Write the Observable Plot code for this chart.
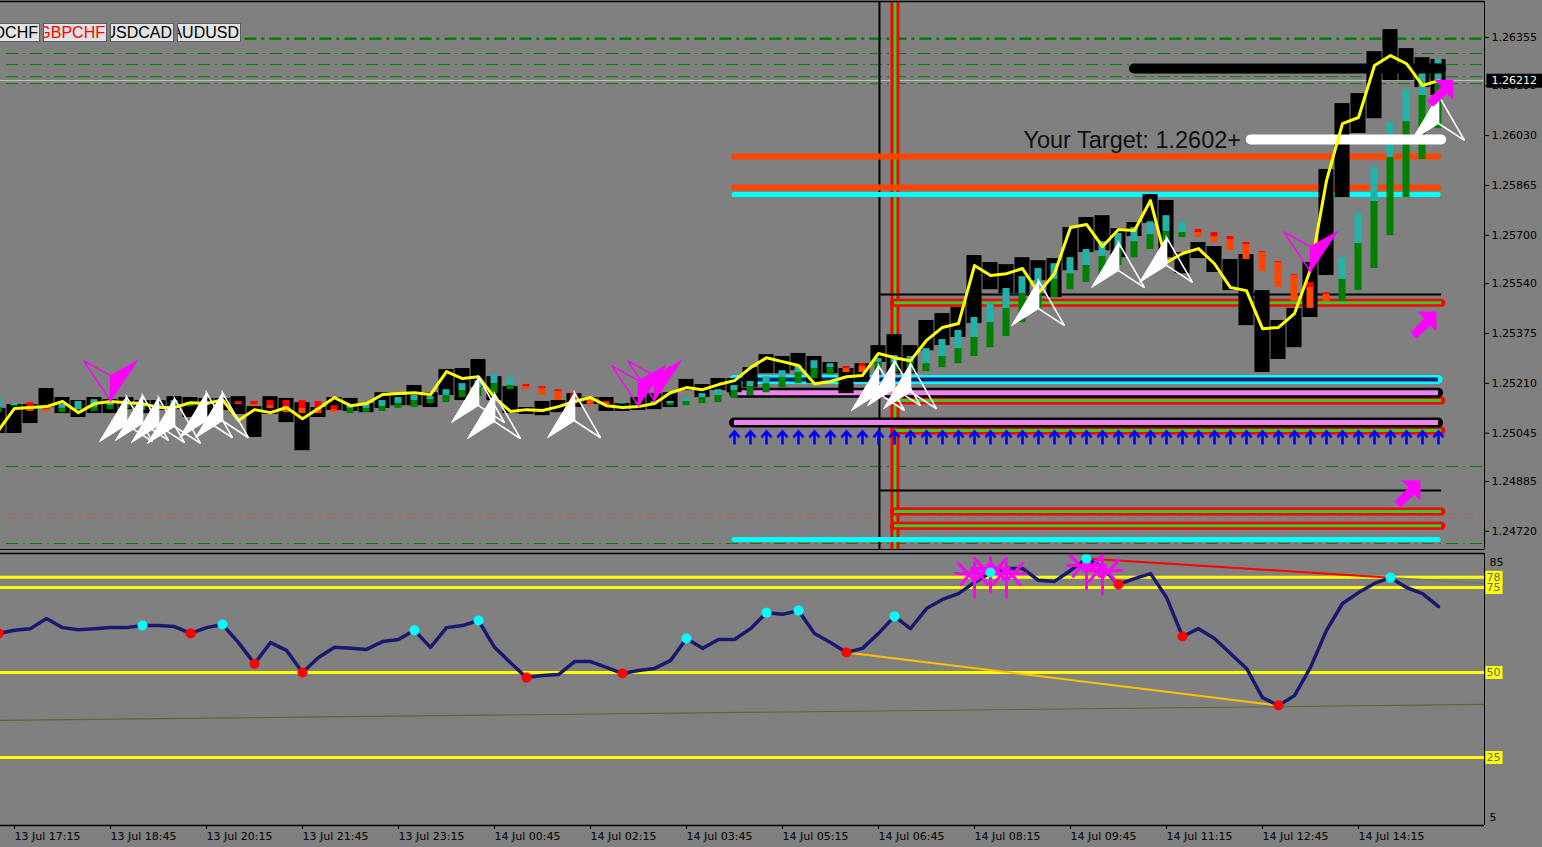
<!DOCTYPE html>
<html><head><meta charset="utf-8">
<script src="https://cdn.jsdelivr.net/npm/d3@7"></script>
<script src="https://cdn.jsdelivr.net/npm/@observablehq/plot@0.6"></script>
<style>
html,body{margin:0;padding:0;background:#808080;overflow:hidden}
#wrap{position:relative;width:1542px;height:847px}
#wrap svg{display:block}
.btn{position:absolute;top:23px;width:64px;height:19px;box-sizing:border-box;border:1px solid #5c5c5c;background:#e3e3e3;display:flex;justify-content:flex-end;align-items:center;overflow:hidden;font-family:"Liberation Sans",Arial,sans-serif;font-size:16px;white-space:nowrap;line-height:17px}
.btn span{flex:none;padding-right:1px}
</style></head>
<body><div id="wrap"></div>
<script>
// ---------------- DATA ----------------
const symbols = ["USDCHF", "GBPCHF", "USDCAD", "AUDUSD"];
const activeSymbol = "GBPCHF";

const firstBar = -1; // bar index of first value (bar 0 = 13 Jul 17:15, M15)
const timeTickBars = [0, 6, 12, 18, 24, 30, 36, 42, 48, 54, 60, 66, 72, 78, 84];
const timeTickLabels = ["13 Jul 17:15", "13 Jul 18:45", "13 Jul 20:15", "13 Jul 21:45", "13 Jul 23:15",
  "14 Jul 00:45", "14 Jul 02:15", "14 Jul 03:45", "14 Jul 05:15", "14 Jul 06:45", "14 Jul 08:15",
  "14 Jul 09:45", "14 Jul 11:15", "14 Jul 12:45", "14 Jul 14:15"];
const priceTicks = [1.26355, 1.26195, 1.26030, 1.25865, 1.25700, 1.25540, 1.25375, 1.25210, 1.25045, 1.24885, 1.24720];
const priceWindow = [1.24660, 1.26474];
const barWindow = [-0.875, 91.875];

const candleHi = [
  1.25127,1.25140,1.25140,1.25193,1.25163,1.25153,1.25163,1.25156,1.25163,1.25153,
  1.25153,1.25166,1.25163,1.25160,1.25160,1.25166,1.25133,1.25166,1.25160,1.25146,
  1.25130,1.25163,1.25160,1.25143,1.25179,1.25170,1.25203,1.25179,1.25256,1.25259,
  1.25289,1.25232,1.25199,1.25130,1.25150,1.25153,1.25176,1.25163,1.25163,1.25143,
  1.25163,1.25176,1.25179,1.25223,1.25206,1.25226,1.25226,1.25262,1.25305,1.25299,
  1.25309,1.25299,1.25279,1.25259,1.25275,1.25335,1.25371,1.25335,1.25418,1.25441,
  1.25461,1.25633,1.25610,1.25603,1.25626,1.25616,1.25623,1.25726,1.25759,1.25765,
  1.25722,1.25742,1.25835,1.25815,1.25643,1.25676,1.25663,1.25620,1.25636,1.25517,
  1.25418,1.25458,1.25610,1.25918,1.26136,1.26169,1.26308,1.26381,1.26318,1.26288,1.26282];
const candleLo = [
  1.25044,1.25044,1.25077,1.25130,1.25110,1.25097,1.25110,1.25110,1.25123,1.25110,
  1.25120,1.25123,1.25097,1.25100,1.25120,1.25107,1.25031,1.25107,1.25080,1.24987,
  1.25097,1.25120,1.25117,1.25113,1.25127,1.25136,1.25136,1.25130,1.25170,1.25153,
  1.25196,1.25153,1.25110,1.25107,1.25103,1.25113,1.25130,1.25140,1.25117,1.25117,
  1.25120,1.25123,1.25130,1.25186,1.25163,1.25186,1.25179,1.25196,1.25242,1.25242,
  1.25252,1.25209,1.25242,1.25176,1.25213,1.25279,1.25242,1.25242,1.25318,1.25335,
  1.25362,1.25408,1.25520,1.25507,1.25507,1.25550,1.25494,1.25583,1.25643,1.25649,
  1.25626,1.25696,1.25739,1.25626,1.25573,1.25623,1.25577,1.25517,1.25401,1.25246,
  1.25289,1.25328,1.25428,1.25567,1.25825,1.26037,1.26086,1.26212,1.26212,1.26189,1.26163];

const haTop = [
  1.25160,1.25143,1.25146,1.25127,1.25140,1.25150,1.25156,1.25143,1.25153,1.25140,
  1.25140,1.25153,1.25146,1.25150,1.25153,1.25150,1.25150,1.25153,1.25153,1.25153,
  1.25150,1.25136,1.25136,1.25140,1.25153,1.25163,1.25170,1.25166,1.25189,1.25209,
  1.25219,1.25239,1.25229,1.25206,1.25199,1.25189,1.25176,1.25163,1.25150,1.25146,
  1.25146,1.25150,1.25150,1.25160,1.25176,1.25189,1.25203,1.25216,1.25232,1.25252,
  1.25269,1.25285,1.25275,1.25266,1.25275,1.25292,1.25302,1.25299,1.25325,1.25355,
  1.25385,1.25428,1.25477,1.25524,1.25563,1.25590,1.25606,1.25626,1.25653,1.25679,
  1.25706,1.25726,1.25745,1.25765,1.25742,1.25719,1.25709,1.25696,1.25676,1.25646,
  1.25613,1.25570,1.25544,1.25510,1.25626,1.25772,1.25924,1.26073,1.26182,1.26252,1.26282];
const haMid = [
  1.25130,1.25136,1.25130,1.25123,1.25127,1.25123,1.25130,1.25136,1.25143,1.25130,
  1.25133,1.25140,1.25140,1.25143,1.25146,1.25143,1.25140,1.25136,1.25133,1.25127,
  1.25127,1.25123,1.25127,1.25127,1.25133,1.25143,1.25153,1.25156,1.25170,1.25186,
  1.25196,1.25209,1.25203,1.25199,1.25193,1.25183,1.25163,1.25156,1.25146,1.25143,
  1.25143,1.25146,1.25143,1.25150,1.25163,1.25170,1.25186,1.25199,1.25209,1.25229,
  1.25246,1.25259,1.25262,1.25259,1.25266,1.25279,1.25279,1.25279,1.25275,1.25299,
  1.25325,1.25362,1.25411,1.25458,1.25507,1.25517,1.25554,1.25573,1.25600,1.25630,
  1.25656,1.25679,1.25702,1.25712,1.25709,1.25709,1.25696,1.25686,1.25669,1.25643,
  1.25610,1.25567,1.25527,1.25504,1.25554,1.25673,1.25812,1.25957,1.26076,1.26163,1.26206];
const haBot = [
  1.25113,1.25133,1.25117,1.25117,1.25113,1.25120,1.25117,1.25123,1.25127,1.25120,
  1.25127,1.25133,1.25133,1.25136,1.25140,1.25140,1.25133,1.25127,1.25113,1.25110,
  1.25110,1.25113,1.25110,1.25113,1.25117,1.25127,1.25130,1.25143,1.25146,1.25163,
  1.25166,1.25176,1.25189,1.25189,1.25170,1.25153,1.25143,1.25136,1.25140,1.25140,
  1.25140,1.25140,1.25136,1.25136,1.25143,1.25146,1.25160,1.25170,1.25179,1.25196,
  1.25209,1.25226,1.25239,1.25246,1.25246,1.25252,1.25246,1.25246,1.25249,1.25262,
  1.25275,1.25299,1.25328,1.25365,1.25411,1.25458,1.25494,1.25520,1.25544,1.25567,
  1.25600,1.25626,1.25653,1.25673,1.25693,1.25693,1.25676,1.25649,1.25620,1.25580,
  1.25527,1.25481,1.25458,1.25481,1.25481,1.25517,1.25590,1.25699,1.25825,1.25951,1.26053];
const haDirection = ("UUDDUUUUUU" + "UUUUUDDDDD" + "DDUUUUUUUU" + "UUUDDDDDDU" + "UUUUUUUUUU" +
  "UUUDDUUUUU" + "UUUUUUUUUU" + "UUUUUDDDDD" + "DDDDUUUUUUU").split("");

const maLine = [
  1.25054,1.25127,1.25130,1.25133,1.25150,1.25113,1.25143,1.25150,1.25146,1.25143,
  1.25130,1.25130,1.25146,1.25143,1.25156,1.25087,1.25123,1.25113,1.25130,1.25093,
  1.25127,1.25163,1.25136,1.25143,1.25173,1.25176,1.25179,1.25173,1.25249,1.25226,
  1.25232,1.25163,1.25117,1.25123,1.25120,1.25133,1.25150,1.25163,1.25136,1.25130,
  1.25133,1.25143,1.25179,1.25196,1.25189,1.25206,1.25219,1.25262,1.25295,1.25282,
  1.25269,1.25209,1.25216,1.25232,1.25236,1.25309,1.25295,1.25285,1.25352,1.25395,
  1.25408,1.25600,1.25567,1.25573,1.25590,1.25510,1.25573,1.25726,1.25736,1.25663,
  1.25719,1.25716,1.25815,1.25610,1.25640,1.25656,1.25606,1.25527,1.25517,1.25391,
  1.25395,1.25441,1.25587,1.25881,1.26070,1.26090,1.26262,1.26295,1.26268,1.26196,1.26212];

const oscLine = [
  61.5,62.4,62.9,65.9,63.2,62.6,62.9,63.2,63.2,63.8,
  63.8,63.5,61.5,63.2,64.1,58.8,52.6,58.8,56.5,50.0,
  54.4,57.4,57.1,56.8,59.1,59.7,62.4,57.4,63.2,63.8,
  65.3,57.4,52.9,48.5,49.1,49.4,53.2,53.2,51.5,49.7,
  50.6,51.2,53.5,60.0,57.1,59.7,59.7,62.9,67.6,67.1,
  68.2,61.5,58.8,55.9,57.1,61.5,66.5,62.9,68.8,71.5,
  73.2,76.5,79.4,80.6,80.6,77.1,76.8,80.0,83.5,80.9,
  75.9,77.6,79.1,72.1,60.6,62.9,60.0,55.6,51.2,42.6,
  40.3,43.2,51.5,62.4,70.3,73.5,76.2,77.9,75.0,73.2,69.4];
const oscCyanBars = [8, 13, 25, 29, 42, 47, 49, 55, 61, 67, 86];
const oscRedBars = [-1, 11, 15, 18, 32, 38, 52, 69, 73, 79];
const oscLevels = [78, 75, 50, 25];
const oscTopLabel = 85, oscBottomLabel = 5;
const oscBaselineBars = [-0.875, 91.875];
const oscBaselineValues = [35.9, 40.6];
const bullDivBars = [52, 79], bullDivValues = [55.9, 40.3];
const bearDivBars = [67, 86], bearDivValues = [83.5, 77.9];
const bearDivExtBars = [86, 91.875], bearDivExtValues = [77.9, 76.2];
const oscStarBars = [60, 61, 62, 67, 68];
const oscStarValues = [79.1, 80.6, 79.1, 81.5, 80.0];

// horizontal levels (price) and their bar spans
const bidPrice = 1.26212;
const greenDashThick = {price: 1.26351, from: 14.4};
const greenDashLevels = [1.26302, 1.26265, 1.26225, 1.26202, 1.24935, 1.24680];
const orangeDashLevels = [1.24766];
const zoneFrom = 45.0, zoneTo = 89.0;
const orangeLevels = [1.25961, 1.25858];
const cyanLevels = [1.25835, 1.24693];
const cyanNavyLevels = [1.25223];
const violetLevels = [1.25179, 1.25080];
const pivotFrom = 55.0, pivotTo = 89.2;
const rgrLevels = [1.25477, 1.25153, 1.25054, 1.24786, 1.24739];
const thinBlackFrom = 54.1;
const thinBlackLevels = [1.25504, 1.24855];
const blackBand = {price: 1.26252, from: 70.0, to: 89.2};
const targetBand = {price: 1.26017, from: 77.3, to: 89.2};
const targetText = "Your Target: 1.2602+";
const targetTextBar = 63.06;
const cursorBar = 54.06;
const pivotVerticalBar = 55.03;

const whiteArrowBars = [7, 8, 9, 10, 12, 13, 29, 30, 35, 54, 55, 56, 64, 69, 72, 89];
const whiteArrowPrices = [1.25166, 1.25170, 1.25163, 1.25160, 1.25179, 1.25179, 1.25229, 1.25176, 1.25179,
  1.25269, 1.25285, 1.25275, 1.25550, 1.25676, 1.25693, 1.26163];
const magentaArrowBars = [6, 39, 40, 81];
const magentaArrowPrices = [1.25153, 1.25136, 1.25153, 1.25580];
const boldArrowBars = [88.06, 87.06, 89.1];
const boldArrowPrices = [1.25405, 1.24845, 1.26172];
const blueArrowBars = d3.range(45, 90);
const blueArrowPrice = 1.25031;

// ---------------- BUILD ----------------
const bars = candleHi.map((h, k) => ({
  i: firstBar + k, hi: h, lo: candleLo[k],
  top: haTop[k], mid: haMid[k], bot: haBot[k], up: haDirection[k] === "U",
  ma: maLine[k], osc: oscLine[k]
}));
const byBar = new Map(bars.map(d => [d.i, d]));
const sym = f => ({draw(ctx) { f(ctx); }});
const whiteLeft = sym(c => { c.moveTo(0, 0); c.lineTo(-27, 45); c.lineTo(0, 28); c.closePath(); });
const whiteRight = sym(c => { c.moveTo(0, 0); c.lineTo(26, 45); c.lineTo(0, 28); c.closePath(); });
const magLeft = sym(c => { c.moveTo(0, 0); c.lineTo(-27, -40); c.lineTo(0, -25); c.closePath(); });
const magRight = sym(c => { c.moveTo(0, 0); c.lineTo(27, -40); c.lineTo(0, -25); c.closePath(); });
const blueUp = sym(c => { c.moveTo(0, 7); c.lineTo(0, -5); c.moveTo(-5, 0); c.lineTo(0, -6); c.lineTo(5, 0); });
const boldUpRight = sym(c => { c.moveTo(13, -13); c.lineTo(13, 7); c.lineTo(7, 1); c.lineTo(-7, 14); c.lineTo(-13, 8); c.lineTo(1, -6); c.lineTo(-6, -13); c.closePath(); });
const star = sym(c => {
  c.moveTo(-20, 0); c.lineTo(20, 0);
  c.moveTo(-17, -11); c.lineTo(0, 7); c.lineTo(17, -11);
  c.moveTo(-14, 12); c.lineTo(0, -6); c.lineTo(14, 12);
  c.moveTo(0, -12); c.lineTo(0, 25);
});
const priceBox = sym(c => { c.rect(0, -7, 57, 14); });
const levelBox = sym(c => { c.rect(0, -6.5, 17, 13); });

const X1 = barWindow[1];
const span = (prices, from, to) => prices.map(p => ({p, from, to}));
const rules = (data, opts) => Plot.ruleY(data, {y: "p", x1: "from", x2: "to", ...opts});

const whiteArrows = whiteArrowBars.map((b, k) => ({i: b, p: whiteArrowPrices[k]}));
const magArrows = magentaArrowBars.map((b, k) => ({i: b, p: magentaArrowPrices[k]}));
const boldArrows = boldArrowBars.map((b, k) => ({i: b, p: boldArrowPrices[k]}));
const blueArrows = blueArrowBars.map(b => ({i: b, p: blueArrowPrice}));

const main = Plot.plot({
  width: 1542, height: 550, marginLeft: 0, marginRight: 58, marginTop: 1, marginBottom: 1,
  x: {domain: barWindow, axis: null},
  y: {domain: priceWindow, axis: null},
  color: {type: "identity"},
  style: {background: "#808080", color: "#000", fontFamily: "DejaVu Sans", fontSize: "11px", overflow: "visible"},
  marks: [
    rules(span(greenDashLevels, -0.5, X1), {stroke: "#008000", strokeWidth: 1, strokeDasharray: "12,5,2,5"}),
    rules(span([greenDashThick.price], greenDashThick.from, X1), {stroke: "#008000", strokeWidth: 2.5, strokeDasharray: "12,5,3,5"}),
    rules(span(orangeDashLevels, -0.5, X1), {stroke: "#ff4500", strokeWidth: 1, strokeDasharray: "8,5,2,5", strokeOpacity: 0.7}),
    rules(span([bidPrice], barWindow[0], X1), {stroke: "#c8c8c8", strokeWidth: 1}),
    Plot.ruleX([cursorBar], {stroke: "#000", strokeWidth: 2}),
    Plot.ruleX([pivotVerticalBar], {stroke: "#ff0000", strokeWidth: 9}),
    Plot.ruleX([pivotVerticalBar], {stroke: "#32cd32", strokeWidth: 3}),
    rules(span(thinBlackLevels, thinBlackFrom, pivotTo), {stroke: "#000", strokeWidth: 2}),
    rules(span(rgrLevels, pivotFrom, pivotTo), {stroke: "#ff0000", strokeWidth: 8, strokeLinecap: "round"}),
    rules(span(rgrLevels, pivotFrom, pivotTo), {stroke: "#32cd32", strokeWidth: 3}),
    rules(span(orangeLevels, zoneFrom, zoneTo), {stroke: "#ff4500", strokeWidth: 6, strokeLinecap: "round"}),
    rules(span(cyanLevels, zoneFrom, zoneTo), {stroke: "#00ffff", strokeWidth: 5, strokeLinecap: "round"}),
    rules(span(cyanNavyLevels, zoneFrom, zoneTo), {stroke: "#00ffff", strokeWidth: 9, strokeLinecap: "round"}),
    rules(span(cyanNavyLevels, zoneFrom, zoneTo), {stroke: "#1a1a6e", strokeWidth: 4}),
    rules(span(violetLevels, zoneFrom, zoneTo), {stroke: "#000", strokeWidth: 10, strokeLinecap: "round"}),
    rules(span(violetLevels, zoneFrom, zoneTo), {stroke: "#ee82ee", strokeWidth: 5}),
    Plot.rect(bars, {x1: d => d.i - 0.47, x2: d => d.i + 0.47, y1: "lo", y2: "hi", fill: "#000"}),
    Plot.rect(bars, {x1: d => d.i - 0.22, x2: d => d.i + 0.22, y1: "mid", y2: "top", fill: d => d.up ? "#20b2aa" : "#ff0000"}),
    Plot.rect(bars, {x1: d => d.i - 0.22, x2: d => d.i + 0.22, y1: "bot", y2: "mid", fill: d => d.up ? "#008000" : "#ff4500"}),
    rules(span([blackBand.price], blackBand.from, blackBand.to), {stroke: "#000", strokeWidth: 10, strokeLinecap: "round"}),
    rules(span([targetBand.price], targetBand.from, targetBand.to), {stroke: "#ffffff", strokeWidth: 10, strokeLinecap: "round"}),
    Plot.line(bars, {x: "i", y: "ma", stroke: "#ffff00", strokeWidth: 3}),
    Plot.dot(blueArrows, {x: "i", y: "p", r: 1, symbol: blueUp, stroke: "#0000ff", strokeWidth: 2.6, fill: "none"}),
    Plot.dot(magArrows, {x: "i", y: "p", r: 1, symbol: magLeft, stroke: "#ff00ff", strokeWidth: 1.5, fill: "none"}),
    Plot.dot(magArrows, {x: "i", y: "p", r: 1, symbol: magRight, fill: "#ff00ff", stroke: "#ff00ff", strokeWidth: 1}),
    Plot.dot(whiteArrows, {x: "i", y: "p", r: 1, symbol: whiteRight, stroke: "#ffffff", strokeWidth: 1.6, fill: "none"}),
    Plot.dot(whiteArrows, {x: "i", y: "p", r: 1, symbol: whiteLeft, fill: "#ffffff", stroke: "#ffffff", strokeWidth: 1}),
    Plot.dot(boldArrows, {x: "i", y: "p", r: 1, symbol: boldUpRight, fill: "#ff00ff", stroke: "none"}),
    Plot.text([targetText], {x: () => targetTextBar, y: () => targetBand.price, text: d => d, textAnchor: "start",
      fontFamily: "Liberation Sans", fontSize: 23.5, fill: "#111", dy: 1}),
    Plot.ruleX([X1], {stroke: "#000"}),
    Plot.ruleY([priceWindow[1]], {stroke: "#000", strokeWidth: 1.5}),
    Plot.ruleY([priceWindow[0]], {stroke: "#000"}),
    Plot.axisY({anchor: "right", ticks: priceTicks, tickFormat: d3.format(".5f"), tickSize: 4, tickPadding: 3, fontSize: 11, label: null}),
    Plot.dot([bidPrice], {x: () => X1, y: d => d, r: 1, symbol: priceBox, fill: "#000", stroke: "none", dx: 2}),
    Plot.text([bidPrice], {x: () => X1, y: d => d, text: d => d3.format(".5f")(d), fill: "#fff", textAnchor: "start", dx: 7, fontSize: 11})
  ]
});

const oscData = bars.map(d => ({i: d.i, v: d.osc}));
const pairs = (bs, vs) => bs.map((b, k) => ({i: b, v: vs[k]}));
const osc = Plot.plot({
  width: 1542, height: 297, marginLeft: 0, marginRight: 58, marginTop: 3, marginBottom: 22,
  x: {domain: barWindow, axis: null},
  y: {domain: [5, 85], axis: null},
  color: {type: "identity"},
  style: {background: "#808080", color: "#000", fontFamily: "DejaVu Sans", fontSize: "11px", overflow: "visible"},
  marks: [
    Plot.ruleY(oscLevels, {stroke: "#ffff00", strokeWidth: 3}),
    Plot.line(pairs(oscBaselineBars, oscBaselineValues), {x: "i", y: "v", stroke: "#556b2f", strokeWidth: 1.2}),
    Plot.line(pairs(bullDivBars, bullDivValues), {x: "i", y: "v", stroke: "#ffc000", strokeWidth: 2}),
    Plot.line(pairs(bearDivBars, bearDivValues), {x: "i", y: "v", stroke: "#ff0000", strokeWidth: 2}),
    Plot.line(pairs(bearDivExtBars, bearDivExtValues), {x: "i", y: "v", stroke: "#6e7a5e", strokeWidth: 1.5}),
    Plot.line(oscData, {x: "i", y: "v", stroke: "#191970", strokeWidth: 3.5}),
    Plot.dot(pairs(oscStarBars, oscStarValues), {x: "i", y: "v", r: 1, symbol: star, stroke: "#ff00ff", strokeWidth: 3, fill: "none"}),
    Plot.dot(oscCyanBars.map(b => byBar.get(b)), {x: "i", y: "osc", r: 5, fill: "#00ffff", stroke: "none"}),
    Plot.dot(oscRedBars.map(b => byBar.get(b)), {x: "i", y: "osc", r: 5, fill: "#ff0000", stroke: "none"}),
    Plot.ruleX([X1], {stroke: "#000"}),
    Plot.ruleY([85], {stroke: "#000", strokeWidth: 1.5}),
    Plot.ruleY([5], {stroke: "#000", strokeWidth: 1.5}),
    Plot.axisX({anchor: "bottom", ticks: timeTickBars, tickFormat: d => timeTickLabels[timeTickBars.indexOf(d)],
      tickSize: 4, tickPadding: 3, textAnchor: "start", fontSize: 11, label: null}),
    Plot.dot(oscLevels, {x: () => X1, y: d => d, r: 1, symbol: levelBox, fill: "#ffff00", stroke: "none", dx: 1}),
    Plot.text(oscLevels, {x: () => X1, y: d => d, text: d => String(d), fill: "#6a6a6a", textAnchor: "start", dx: 2, fontSize: 11}),
    Plot.text([oscTopLabel], {x: () => X1, y: d => d, text: d => String(d), fill: "#000", textAnchor: "start", dx: 5, dy: 9, fontSize: 11}),
    Plot.text([oscBottomLabel], {x: () => X1, y: d => d, text: d => String(d), fill: "#000", textAnchor: "start", dx: 5, dy: -8, fontSize: 11})
  ]
});

const wrap = document.getElementById("wrap");
wrap.appendChild(main);
wrap.appendChild(osc);

symbols.forEach((s, k) => {
  const b = document.createElement("div");
  b.className = "btn";
  b.style.left = (-24 + 67 * k) + "px";
  const sp = document.createElement("span");
  sp.textContent = s;
  sp.style.color = s === activeSymbol ? "#ff0000" : "#000";
  b.appendChild(sp);
  wrap.appendChild(b);
});
</script></body></html>
